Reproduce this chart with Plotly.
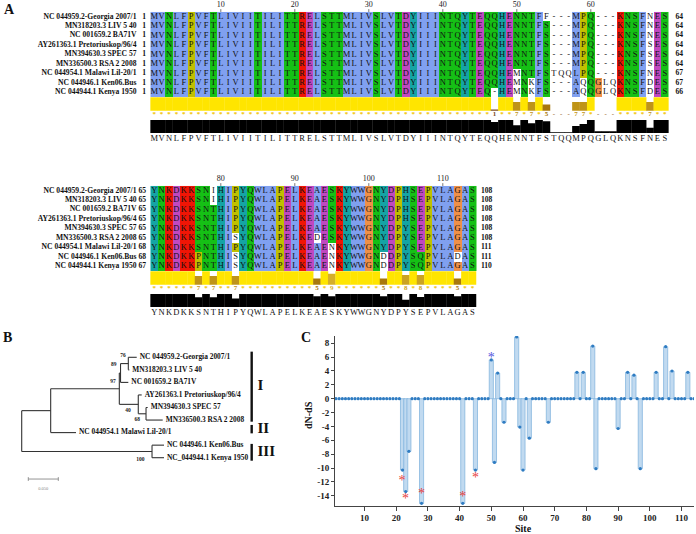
import plotly.graph_objects as go

W, H = 696, 534
SERIF = "Liberation Serif"

# ---------------- Panel A data ----------------
seq_names = ["NC 044959.2-Georgia 2007/1", "MN318203.3 LIV 5 40", "NC 001659.2 BA71V",
             "AY261363.1 Pretoriuskop/96/4", "MN394630.3 SPEC 57", "MN336500.3 RSA 2 2008",
             "NC 044954.1 Malawi Lil-20/1", "NC 044946.1 Ken06.Bus", "NC 044944.1 Kenya 1950"]
prefix1 = "MVNLFPVFTLIVIITILITTRELSTTMLIVSLVTDYIIINTQYTEQ"
block1_rows = [prefix1 + s for s in [
    "QHENNTFF---MPQ---KNSFNES",
    "QHENNTFS---MPQ---KNSFNES",
    "QHENNTFS---MPQ---KNSFNES",
    "QHENNTFS---MPQ---KNSFSES",
    "QHENNTFS---MPQ---KNSFSES",
    "QHENNTFS---MPQ---KNSFSES",
    "QHEMNTFSTQQLPQ---KNSFNES",
    "QHEMNKFS---AQQGLQKNSFDES",
    "-HEMNKFS---AQQGLQKNSFDES"]]
block2_rows = [
    "YNKDKKSNIHIPYQWLAPELKEAESKYWWGNYDPHSEPVLAGAS",
    "YNKDKKSNIHIPYQWLAPELKEAESKYWWGNYDPHSEPVLAGAS",
    "YNKDKKSNTHIPYQWLAPELKEAESKYWWGNYDPHSEPVLAGAS",
    "YNKDKKSNTHIPYQWLAPELKEAESKYWWGNYDPHSEPVLAGAS",
    "YNKDKKSNTHIPYQWLAPELKEAESKYWWGNYDPYSEPVLAGAS",
    "YNKDKKSNTHISYQWLAPELKEDESKYWWGNYDPYSEPVLAGAS",
    "YNKDKKSNTHIPYQWLAPELKEAENKYWWGNYDPYSEPVLAGAS",
    "YNKDKKPNTHISYQWLAPELKEAENKYWWGNDDPYSQPVLADAS",
    "YNKDKKPNTHISYQWLAPELKEAENKYWWGNDDPYSQPVLAGAS"]
consensus1 = "MVNLFPVFTLIVIITILITTRELSTTMLIVSLVTDYIIINTQYTEQQHENNTFSTQQMPQGLQKNSFNES"
consensus2 = "YNKDKKSNTHIPYQWLAPELKEAESKYWWGNYDPYSEPVLAGAS"

# cells left uncoloured by the Clustal scheme (row, column)
white1 = [(1, 54), (7, 50), (8, 50), (9, 50), (8, 52), (9, 52), (7, 55), (7, 56), (7, 57),
          (8, 59), (9, 59), (8, 62), (8, 63), (9, 62), (9, 63)] + [(r, 68) for r in range(1, 10)]
white2 = [(1, 9), (2, 9), (6, 12), (8, 12), (9, 12), (6, 23), (7, 25), (8, 25), (9, 25),
          (8, 32), (9, 32), (8, 42)]

# conservation scores (11 = fully conserved '*'), columns shown as '-'
cons_score1 = {47: 1, 50: 7, 52: 7, 54: 5, 58: 7, 59: 7, 68: 7}
cons_dash1 = [55, 56, 57, 61, 62, 63]
cons_score2 = {7: 7, 9: 7, 12: 7, 23: 5, 25: 9, 32: 5, 35: 8, 37: 8, 42: 5}
cons_dash2 = []
# quality (fraction of full height; 1 elsewhere)
quality1 = {47: 0.84, 50: 0.58, 52: 0.74, 54: 0.9, 55: 0.05, 56: 0.05, 57: 0.05,
            58: 0.53, 59: 0.68, 61: 0.13, 62: 0.13, 63: 0.13, 68: 0.4}
quality2 = {7: 0.74, 9: 0.74, 12: 0.64, 23: 0.82, 25: 0.82, 32: 0.82, 35: 0.56, 37: 0.77, 42: 0.82}

ruler1_cols, ruler1_labels = [10, 20, 30, 40, 50, 60], ["10", "20", "30", "40", "50", "60"]
ruler2_cols, ruler2_labels = [10, 20, 30, 40], ["80", "90", "100", "110"]

# ---------------- Panel B data ----------------
tree_labels = ["NC 044959.2-Georgia 2007/1", "MN318203.3 LIV 5 40", "NC 001659.2 BA71V",
               "AY261363.1 Pretoriuskop/96/4", "MN394630.3 SPEC 57", "MN336500.3 RSA 2 2008",
               "NC 044954.1 Malawi Lil-20/1", "NC 044946.1 Ken06.Bus", "NC_044944.1 Kenya 1950"]
leaf_depth = [0.1917, 0.1793, 0.1777, 0.2000, 0.2100, 0.2350, 0.0905, 0.2372, 0.2372]
internal_nodes = {
    "G1": (["L0", "L1"], 0.1777, "76"),
    "G2": (["G1", "L2"], 0.1647, "89"),
    "P2": (["L4", "L5"], 0.2072, "68"),
    "P1": (["L3", "P2"], 0.1943, "40"),
    "B": (["G2", "P1"], 0.1627, "97"),
    "A": (["B", "L6"], 0.0483, ""),
    "K": (["L7", "L8"], 0.2172, "100"),
    "root": (["A", "K"], 0.0, ""),
}
clade_names = ["I", "II", "III"]
clade_spans = [(-0.45, 5.13), (5.39, 6.06), (6.9, 8.24)]
scale_len = 0.05

# ---------------- Panel C data ----------------
sites = list(range(1, 115))
sel_sites = [22, 23, 24, 28, 41, 45, 50, 51, 52, 54, 58, 59, 60, 62, 68, 77, 79, 82, 83, 90,
             93, 95, 97, 102, 105, 107, 112]
sel_dnds = [-10.3, -13.4, -7.6, -15.1, -15.1, -10.3, 5.6, -9.2, 3.7, -3.4, 8.9, -4.1, -10.3,
            -5.7, -3.4, 3.8, 3.8, 7.6, -10.1, -4.3, 3.8, 3.4, -10.1, 3.8, 7.5, 4.0, 3.8]
neg_star_sites = [21.8, 22.9, 28, 41, 45]
neg_star_y = [-11.35, -13.9, -13.2, -13.6, -10.9]
pos_star_sites = [50]
pos_star_y = [6.4]
y_ticks = [8, 6, 4, 2, 0, -2, -4, -6, -8, -10, -12, -14]
x_ticks = [10, 20, 30, 40, 50, 60, 70, 80, 90, 100, 110]

# ---------------- styling / geometry ----------------
CLUSTAL_COLORS = ["#ffffff", "#80a0f0", "#f01505", "#15c015", "#c048c0", "#f09048", "#c0c000", "#15a4a4"]
RES_CLASS = {}
for aa in "AILMFWVC":
    RES_CLASS[aa] = 1
for aa in "KR":
    RES_CLASS[aa] = 2
for aa in "NQST":
    RES_CLASS[aa] = 3
for aa in "DE":
    RES_CLASS[aa] = 4
RES_CLASS["G"] = 5
RES_CLASS["P"] = 6
for aa in "HY":
    RES_CLASS[aa] = 7
SCORE_COLORS = {1: "#7a4a1e", 5: "#a8780c", 7: "#bf9418", 8: "#cba322", 9: "#d5ae2a", 11: "#ffe500"}

COL_W, COL0_PX, ROW_H = 7.4, 146.8, 9.45
ROW1_PX = [16.7, 190.7]
Y_LO, Y_HI = -0.76, 14.6
CONS_TOP, CONS_BOT = 9.52, 10.94
DOT_Y = 11.28
Q_TOP, Q_BOT = 11.92, 13.3
CONSENSUS_Y = 13.95
RULER_Y = -0.28
NAME_SIZE = 7.6

colorscale = []
nC = len(CLUSTAL_COLORS)
for i, c in enumerate(CLUSTAL_COLORS):
    colorscale.append([i / nC, c])
    colorscale.append([(i + 1) / nC, c])

fig = go.Figure()
layout_axes = {}

blocks = [
    dict(rows=block1_rows, white=white1, cons=cons_score1, dash=cons_dash1, qual=quality1,
         consensus=consensus1, rcols=ruler1_cols, rlabels=ruler1_labels, end_dx=1.45),
    dict(rows=block2_rows, white=white2, cons=cons_score2, dash=cons_dash2, qual=quality2,
         consensus=consensus2, rcols=ruler2_cols, rlabels=ruler2_labels, end_dx=1.15),
]

starts = [1] * len(seq_names)
for bi, blk in enumerate(blocks):
    sfx = "" if bi == 0 else str(bi + 1)
    xa, ya = "x" + sfx, "y" + sfx
    rows = blk["rows"]
    ncol = len(rows[0])
    cols = list(range(1, ncol + 1))
    rown = list(range(1, len(rows) + 1))
    z = [[0 if (ch == "-" or (r, c) in blk["white"]) else RES_CLASS.get(ch, 0)
          for c, ch in enumerate(s, start=1)] for r, s in enumerate(rows, start=1)]
    fig.add_trace(go.Heatmap(z=z, x=cols, y=rown, colorscale=colorscale, zmin=-0.5, zmax=nC - 0.5,
                             showscale=False, hoverinfo="skip", xaxis=xa, yaxis=ya))
    lx, ly, lt = [], [], []
    for r, s in enumerate(rows, start=1):
        for c, ch in enumerate(s, start=1):
            lx.append(c); ly.append(r); lt.append(ch)
    fig.add_trace(go.Scatter(x=lx, y=ly, text=lt, mode="text", hoverinfo="skip",
                             textfont=dict(family=SERIF, size=8.5, color="#111"), xaxis=xa, yaxis=ya))
    # names
    fig.add_trace(go.Scatter(x=[-1.39] * len(rows), y=rown, text=seq_names, mode="text",
                             textposition="middle left", hoverinfo="skip",
                             textfont=dict(family=SERIF, size=NAME_SIZE, color="#111", weight="bold"),
                             xaxis=xa, yaxis=ya))
    ends = [starts[i] + sum(1 for ch in s if ch != "-") - 1 for i, s in enumerate(rows)]
    fig.add_trace(go.Scatter(x=[-0.11] * len(rows), y=rown, text=[str(v) for v in starts], mode="text",
                             textposition="middle left", hoverinfo="skip",
                             textfont=dict(family=SERIF, size=NAME_SIZE, color="#111", weight="bold"),
                             xaxis=xa, yaxis=ya))
    fig.add_trace(go.Scatter(x=[ncol + blk["end_dx"]] * len(rows), y=rown, text=[str(v) for v in ends],
                             mode="text", textposition="middle right", hoverinfo="skip",
                             textfont=dict(family=SERIF, size=NAME_SIZE, color="#111", weight="bold"),
                             xaxis=xa, yaxis=ya))
    starts = [e + 1 for e in ends]
    # ruler
    fig.add_trace(go.Scatter(x=blk["rcols"], y=[RULER_Y] * len(blk["rcols"]), text=blk["rlabels"],
                             mode="text", hoverinfo="skip",
                             textfont=dict(family=SERIF, size=8, color="#222"), xaxis=xa, yaxis=ya))
    tx, ty = [], []
    for c in blk["rcols"]:
        tx += [c, c, None]; ty += [0.2, 0.5, None]
    fig.add_trace(go.Scatter(x=tx, y=ty, mode="lines", line=dict(color="#555", width=0.8),
                             hoverinfo="skip", xaxis=xa, yaxis=ya))
    # conservation histogram
    scores = [0 if c in blk["dash"] else blk["cons"].get(c, 11) for c in cols]
    fig.add_trace(go.Bar(x=cols, y=[-(s / 11) * (CONS_BOT - CONS_TOP) for s in scores],
                         base=[CONS_BOT] * ncol, width=1.04,
                         marker=dict(color=[SCORE_COLORS.get(s, "#ffffff") for s in scores], line_width=0),
                         hoverinfo="skip", xaxis=xa, yaxis=ya))
    clab = ["-" if c in blk["dash"] else ("*" if s == 11 else str(s)) for c, s in zip(cols, scores)]
    ccol = ["#9a6a30" if l == "-" else ("#f2c200" if l == "*" else SCORE_COLORS[s])
            for l, s in zip(clab, scores)]
    fig.add_trace(go.Scatter(x=cols, y=[DOT_Y] * ncol, text=clab, mode="text", hoverinfo="skip",
                             textfont=dict(family=SERIF, size=7, color=ccol, weight="bold"),
                             xaxis=xa, yaxis=ya))
    # quality histogram
    qual = [blk["qual"].get(c, 1.0) for c in cols]
    fig.add_trace(go.Bar(x=cols, y=[-q * (Q_BOT - Q_TOP) for q in qual], base=[Q_BOT] * ncol, width=1.04,
                         marker=dict(color="#000000", line_width=0), hoverinfo="skip",
                         xaxis=xa, yaxis=ya))
    # consensus
    fig.add_trace(go.Scatter(x=cols, y=[CONSENSUS_Y] * ncol, text=list(blk["consensus"]), mode="text",
                             hoverinfo="skip", textfont=dict(family=SERIF, size=8.5, color="#111"),
                             xaxis=xa, yaxis=ya))
    top_px = ROW1_PX[bi] + (Y_LO - 1) * ROW_H
    bot_px = ROW1_PX[bi] + (Y_HI - 1) * ROW_H
    layout_axes["xaxis" + sfx] = dict(domain=[0, 1], range=[-COL0_PX / COL_W, (W - COL0_PX) / COL_W],
                                      visible=False, anchor=ya, fixedrange=True)
    layout_axes["yaxis" + sfx] = dict(domain=[max(0, 1 - bot_px / H), min(1, 1 - top_px / H)],
                                      range=[Y_HI, Y_LO], visible=False, anchor=xa, fixedrange=True)

# ---------------- Panel B: tree ----------------
ypos = {"L%d" % i: float(i) for i in range(len(tree_labels))}
dpos = {"L%d" % i: leaf_depth[i] for i in range(len(tree_labels))}


def node_y(n):
    if n in ypos:
        return ypos[n]
    ch = internal_nodes[n][0]
    v = sum(node_y(c) for c in ch) / len(ch)
    ypos[n] = v
    return v


for n, (ch, d, bs) in internal_nodes.items():
    dpos[n] = d
for n in internal_nodes:
    node_y(n)

bx, by = [], []
for n, (ch, d, bs) in internal_nodes.items():
    cy = [ypos[c] for c in ch]
    bx += [d, d, None]; by += [min(cy), max(cy), None]
    for c in ch:
        bx += [d, dpos[c], None]; by += [ypos[c], ypos[c], None]
fig.add_trace(go.Scatter(x=bx, y=by, mode="lines", line=dict(color="#333", width=1.1),
                         hoverinfo="skip", xaxis="x3", yaxis="y3"))
fig.add_trace(go.Scatter(x=[d + 0.005 for d in leaf_depth], y=list(range(len(tree_labels))),
                         text=tree_labels, mode="text", textposition="middle right", hoverinfo="skip",
                         textfont=dict(family=SERIF, size=7.4, color="#111", weight="bold"),
                         xaxis="x3", yaxis="y3"))
bs_offsets = {"G1": (0.0043, -0.6), "G2": (0.0067, -0.69), "B": (0.006, -0.56),
              "P1": (0.0125, 0.53), "P2": (0.010, 0.45), "K": (0.0125, 0.63)}
bsx, bsy, bst = [], [], []
for n, (ch, d, bs) in internal_nodes.items():
    if bs:
        ox, oy = bs_offsets[n]
        bsx.append(d - ox); bsy.append(ypos[n] + oy); bst.append(bs)
fig.add_trace(go.Scatter(x=bsx, y=bsy, text=bst, mode="text", textposition="middle left",
                         hoverinfo="skip", textfont=dict(family=SERIF, size=5.5, color="#222", weight="bold"),
                         xaxis="x3", yaxis="y3"))
CLADE_X = 0.3833
cx, cy = [], []
for a, b in clade_spans:
    cx += [CLADE_X, CLADE_X, None]; cy += [a, b, None]
fig.add_trace(go.Scatter(x=cx, y=cy, mode="lines", line=dict(color="#111", width=2.4),
                         hoverinfo="skip", xaxis="x3", yaxis="y3"))
fig.add_trace(go.Scatter(x=[0.393] * 3, y=[(a + b) / 2 for a, b in clade_spans], text=clade_names,
                         mode="text", textposition="middle right", hoverinfo="skip",
                         textfont=dict(family=SERIF, size=15, color="#111", weight="bold"),
                         xaxis="x3", yaxis="y3"))
SB_X0, SB_Y = 0.011, 9.7
fig.add_trace(go.Scatter(x=[SB_X0, SB_X0 + scale_len, None, SB_X0, SB_X0, None, SB_X0 + scale_len, SB_X0 + scale_len],
                         y=[SB_Y, SB_Y, None, SB_Y - 0.15, SB_Y + 0.15, None, SB_Y - 0.15, SB_Y + 0.15],
                         mode="lines", line=dict(color="#888", width=0.9), hoverinfo="skip",
                         xaxis="x3", yaxis="y3"))
fig.add_trace(go.Scatter(x=[SB_X0 + scale_len / 2], y=[SB_Y + 0.8], text=["%.3f" % scale_len], mode="text",
                         hoverinfo="skip", textfont=dict(family=SERIF, size=4.5, color="#888"),
                         xaxis="x3", yaxis="y3"))
T_ROOT_PX, T_PX_PER = 21.7, 600.0
LEAF0_PX, LEAF_STEP = 357.3, 12.55
layout_axes["xaxis3"] = dict(domain=[0, 300 / W], range=[-T_ROOT_PX / T_PX_PER, (300 - T_ROOT_PX) / T_PX_PER],
                             visible=False, anchor="y3", fixedrange=True)
layout_axes["yaxis3"] = dict(domain=[(H - 500) / H, (H - 335) / H],
                             range=[(500 - LEAF0_PX) / LEAF_STEP, (335 - LEAF0_PX) / LEAF_STEP],
                             visible=False, anchor="x3", fixedrange=True)

# ---------------- Panel C: dN-dS ----------------
vals = dict(zip(sel_sites, sel_dnds))
dnds = [vals.get(s, 0.0) for s in sites]
fig.add_trace(go.Bar(x=sel_sites, y=sel_dnds, width=1.3,
                     marker=dict(color="rgba(186,214,238,0.9)", line=dict(color="#86b6de", width=0.8)),
                     hoverinfo="skip", xaxis="x4", yaxis="y4"))
fig.add_trace(go.Scatter(x=sites, y=dnds, mode="markers", marker=dict(size=3.2, color="#2f7cc2"),
                         hoverinfo="skip", xaxis="x4", yaxis="y4"))
STAR_SHIFT = -0.6
fig.add_trace(go.Scatter(x=neg_star_sites, y=[v + STAR_SHIFT for v in neg_star_y], text=["*"] * len(neg_star_y),
                         mode="text", hoverinfo="skip",
                         textfont=dict(family=SERIF, size=14, color="#e8403c"), xaxis="x4", yaxis="y4"))
fig.add_trace(go.Scatter(x=pos_star_sites, y=[v + STAR_SHIFT for v in pos_star_y], text=["*"] * len(pos_star_y),
                         mode="text", hoverinfo="skip",
                         textfont=dict(family=SERIF, size=14, color="#5555dd"), xaxis="x4", yaxis="y4"))
C_X0_PX, C_PX_PER = 332.8, 3.17
C_Y0_PX, C_PX_PER_Y = 398.7, 6.93
cx0, cx1 = 335.0, 694.0
cy0, cy1 = 336.0, 505.5
tickfont = dict(family=SERIF, size=9, color="#222", weight="bold")
layout_axes["xaxis4"] = dict(domain=[cx0 / W, cx1 / W],
                             range=[(cx0 - C_X0_PX) / C_PX_PER, (cx1 - C_X0_PX) / C_PX_PER],
                             anchor="y4", showline=True, linecolor="#444", linewidth=1, ticks="outside",
                             ticklen=4, tickcolor="#444", tickvals=x_ticks, showgrid=False, zeroline=False,
                             tickfont=tickfont, fixedrange=True)
layout_axes["yaxis4"] = dict(domain=[(H - cy1) / H, (H - cy0) / H],
                             range=[(C_Y0_PX - cy1) / C_PX_PER_Y, (C_Y0_PX - cy0) / C_PX_PER_Y],
                             anchor="x4", showline=True, linecolor="#444", linewidth=1, ticks="outside",
                             ticklen=3, tickcolor="#444", tickvals=y_ticks, ticktext=[str(v) for v in y_ticks],
                             showgrid=False, zeroline=False, tickfont=tickfont, fixedrange=True)


def label(text, px, py, size, angle=0):
    return dict(text=text, x=px / W, y=1 - py / H, xref="paper", yref="paper", showarrow=False,
                xanchor="center", yanchor="middle", textangle=angle,
                font=dict(family=SERIF, size=size, color="#111", weight="bold"))


annotations = [
    label("A", 9, 9, 14),
    label("B", 7, 337, 14),
    label("C", 306, 337, 14),
    label("Site", 523, 528, 10),
    label("dN-dS", 308, 415, 10, -90),
]

fig.update_layout(width=W, height=H, margin=dict(l=0, r=0, t=0, b=0), showlegend=False,
                  plot_bgcolor="white", paper_bgcolor="white", barmode="overlay",
                  annotations=annotations, **layout_axes)
fig.write_html("out.html", config={"displayModeBar": False, "staticPlot": True},
               post_script="document.body.style.margin='0px';document.body.style.overflow='hidden';")
